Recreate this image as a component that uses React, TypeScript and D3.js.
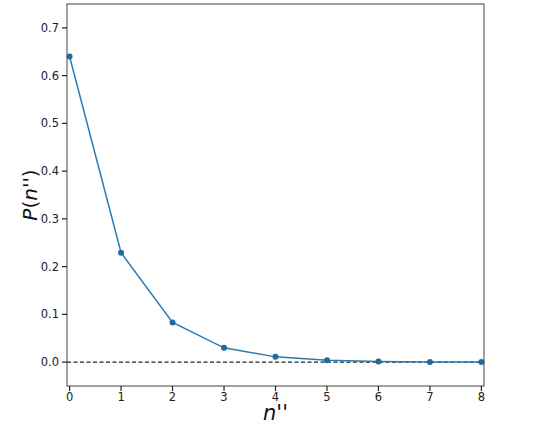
import React from "react";
import * as d3 from "d3";

const nValues = [0, 1, 2, 3, 4, 5, 6, 7, 8];
const probs = [0.64, 0.229, 0.083, 0.030, 0.011, 0.0038, 0.0014, 0.0005, 0.0002];
const xTicks = [0, 1, 2, 3, 4, 5, 6, 7, 8];
const yTicks = [0.0, 0.1, 0.2, 0.3, 0.4, 0.5, 0.6, 0.7];

const W = 540;
const H = 444;
const L = 67, R = 484, T = 4, B = 386;

export default function App() {
  const x = d3.scaleLinear().domain([-0.05, 8.05]).range([L, R]);
  const y = d3.scaleLinear().domain([-0.05, 0.75]).range([B, T]);
  const line = d3
    .line<number>()
    .x((_, i) => x(nValues[i]))
    .y((d) => y(d));
  const font = "DejaVu Sans, sans-serif";
  return (
    <svg width={W} height={H} style={{ position: "absolute", left: 0, top: 0 }}>
      <rect x={0} y={0} width={W} height={H} fill="#fff" />
      <line x1={L} x2={R} y1={y(0)} y2={y(0)} stroke="#222" strokeWidth={1.2} strokeDasharray="4,2.5" />
      <path d={line(probs) || ""} fill="none" stroke="#2b7bb2" strokeWidth={1.5} />
      {probs.map((p, i) => (
        <circle key={i} cx={x(nValues[i])} cy={y(p)} r={3} fill="#1f6aa0" />
      ))}
      <rect x={L} y={T} width={R - L} height={B - T} fill="none" stroke="#555" strokeWidth={1.1} />
      {yTicks.map((t) => (
        <g key={t}>
          <line x1={L - 5} x2={L} y1={y(t)} y2={y(t)} stroke="#222" strokeWidth={1.2} />
          <text x={L - 8} y={y(t)} dy="0.35em" textAnchor="end" fontFamily={font} fontSize={11.5} fill="#222">
            {t.toFixed(1)}
          </text>
        </g>
      ))}
      {xTicks.map((t) => (
        <g key={t}>
          <line x1={x(t)} x2={x(t)} y1={B} y2={B + 5} stroke="#222" strokeWidth={1.2} />
          <text x={x(t)} y={B + 15} textAnchor="middle" fontFamily={font} fontSize={11.5} fill="#222">
            {t}
          </text>
        </g>
      ))}
      <text x={(L + R) / 2} y={420} textAnchor="middle" fontFamily={font} fontSize={21} fill="#111" fontStyle="italic">
        {"n''"}
      </text>
      <text
        transform={`translate(37,${(T + B) / 2}) rotate(-90)`}
        textAnchor="middle"
        fontFamily={font}
        fontSize={20}
        fill="#111"
      >
        <tspan fontStyle="italic">P</tspan>
        <tspan>(</tspan>
        <tspan fontStyle="italic">{"n''"}</tspan>
        <tspan>)</tspan>
      </text>
    </svg>
  );
}
